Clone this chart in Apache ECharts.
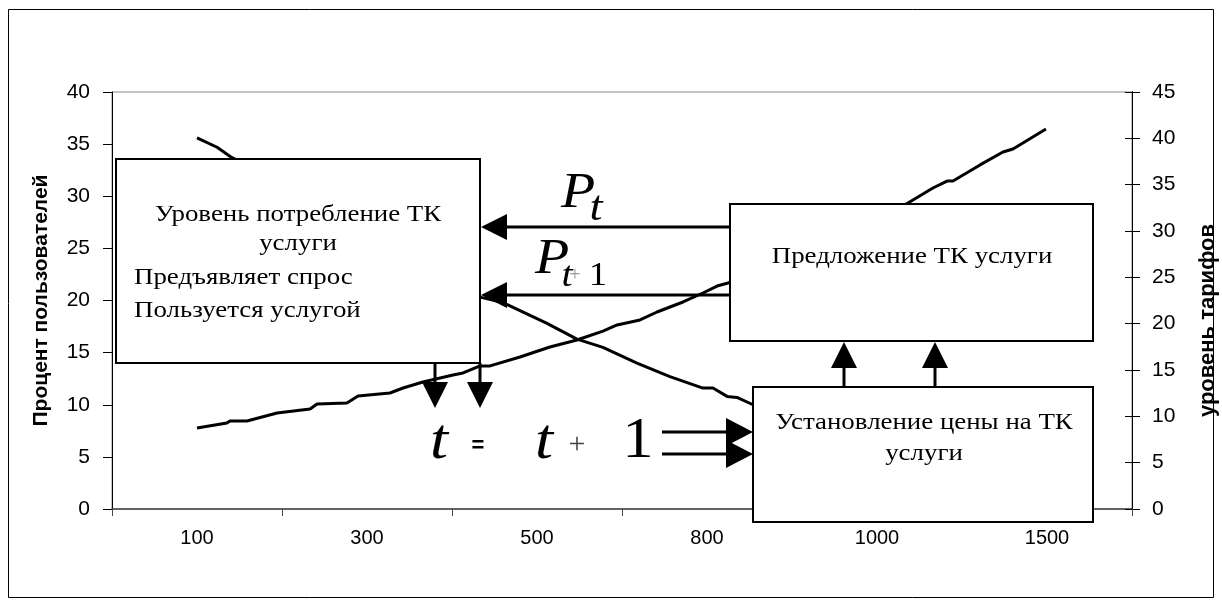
<!DOCTYPE html>
<html>
<head>
<meta charset="utf-8">
<script src="https://cdn.jsdelivr.net/npm/echarts@6/dist/echarts.min.js"></script>
<style>
html,body{margin:0;padding:0;background:#fff;}
#chart{width:1222px;height:607px;}
</style>
</head>
<body>
<div id="chart"></div>
<script>
// Category axis labels
const categories = ['100', '300', '500', '800', '1000', '1500'];
const leftAxisTitle = 'Процент пользователей';
const rightAxisTitle = 'уровень тарифов';

// Fractional category position (category i centre = i + 0.5) of the traced points
const demandPos = [0.5, 0.618, 0.706, 1.106, 1.576, 1.929, 2.171, 2.3, 2.559, 2.735, 2.888, 3.088, 3.282, 3.476, 3.535, 3.618, 3.676, 3.771, 4.341, 4.929, 5.494];
// Percent of users (left axis)
const demandValues = [35.6, 34.7, 33.7, 30.6, 25.8, 22.5, 20.3, 19.8, 17.8, 16.3, 15.5, 14.0, 12.7, 11.6, 11.6, 10.8, 10.7, 10.0, 7.6, 5.7, 3.9];

const supplyPos = [0.5, 0.676, 0.694, 0.794, 0.971, 1.165, 1.206, 1.382, 1.447, 1.635, 1.712, 1.829, 2.006, 2.065, 2.165, 2.224, 2.4, 2.576, 2.735, 2.888, 2.971, 3.106, 3.206, 3.359, 3.476, 3.559, 3.624, 4.165, 4.682, 4.829, 4.912, 4.947, 5.106, 5.241, 5.3, 5.494];
// Tariff level (right axis)
const supplyValues = [8.74, 9.28, 9.5, 9.5, 10.36, 10.79, 11.33, 11.44, 12.2, 12.52, 13.06, 13.7, 14.46, 14.68, 15.44, 15.44, 16.4, 17.48, 18.24, 19.2, 19.86, 20.4, 21.26, 22.34, 23.31, 24.06, 24.39, 28.46, 33.02, 34.64, 35.39, 35.39, 37.13, 38.52, 38.85, 41.0];

const chart = echarts.init(document.getElementById('chart'), null, {renderer: 'canvas'});

const SANS = '"Liberation Sans", Arial, sans-serif';
const SERIF = '"Liberation Serif", "Times New Roman", serif';

function zip(xs, ys) { return xs.map((x, i) => [x, ys[i]]); }

function rect(x1, y1, x2, y2) {
  return {type: 'rect', z: 100, shape: {x: x1, y: y1, width: x2 - x1, height: y2 - y1},
    style: {fill: '#fff', stroke: '#000', lineWidth: 2}};
}
function seg(x1, y1, x2, y2, w) {
  return {type: 'line', z: 101, shape: {x1, y1, x2, y2}, style: {stroke: '#000', lineWidth: w || 3}};
}
function tri(pts) {
  return {type: 'polygon', z: 102, shape: {points: pts}, style: {fill: '#000'}};
}
function txt(t, x, y, font, align, color, sx) {
  return {type: 'text', z: 103, x: x, y: y, scaleX: sx || 1.12,
    style: {text: t, x: 0, y: 0, font, fill: color || '#000', align: align || 'center', verticalAlign: 'middle'}};
}

const boxFont = '24px ' + SERIF;

const graphics = [
  {type: 'rect', z: 0, silent: true, shape: {x: 8.5, y: 9.5, width: 1205, height: 588}, style: {fill: 'none', stroke: '#000', lineWidth: 1}},
  // arrows from supply box to demand box
  seg(505, 227, 730, 227), tri([[481, 227], [507, 214], [507, 240]]),
  seg(505, 295, 730, 295), tri([[481, 295], [507, 282], [507, 308]]),
  // down arrows
  seg(435, 363, 435, 384), tri([[422, 382], [448, 382], [435, 408]]),
  seg(480, 363, 480, 384), tri([[467, 382], [493, 382], [480, 408]]),
  // right arrows to price box
  seg(662, 432, 728, 432), tri([[726, 418], [726, 446], [753, 432]]),
  seg(662, 454, 728, 454), tri([[726, 440], [726, 468], [753, 454]]),
  // up arrows
  seg(844, 387, 844, 366), tri([[831, 368], [857, 368], [844, 342]]),
  seg(935, 387, 935, 366), tri([[922, 368], [948, 368], [935, 342]]),
  // boxes
  rect(116, 159, 480, 363),
  rect(730, 204, 1093, 341),
  rect(753, 387, 1093, 522),
  txt('Уровень потребление ТК', 298, 215, boxFont),
  txt('услуги', 298, 244, boxFont),
  txt('Предъявляет спрос', 134, 278, boxFont, 'left'),
  txt('Пользуется услугой', 134, 311, boxFont, 'left'),
  txt('Предложение ТК услуги', 912, 257, boxFont),
  txt('Установление цены на ТК', 924, 423, boxFont),
  txt('услуги', 924, 454, boxFont),
  // formula labels
  txt('P', 578, 194, 'italic 50px ' + SERIF),
  txt('t', 596, 209, 'italic 42px ' + SERIF),
  txt('P', 552, 260, 'italic 50px ' + SERIF),
  txt('t', 567, 277, 'italic 36px ' + SERIF),
  txt('+', 575, 276, '20px ' + SERIF, 'center', '#999', 1),
  txt('1', 598, 276, '33px ' + SERIF),
  txt('t', 439, 443, 'italic 58px ' + SERIF),
  txt('=', 478, 446, 'bold 22px ' + SANS, 'center', '#000', 1),
  txt('t', 544, 443, 'italic 58px ' + SERIF),
  txt('+', 577, 445, '30px ' + SERIF, 'center', '#444', 1),
  txt('1', 638, 442, '56px ' + SERIF)
];

const option = {
  backgroundColor: '#fff',
  animation: false,
  grid: {left: 112, right: 90, top: 92, bottom: 98, outerBoundsMode: 'none', containLabel: false,
    show: true, borderColor: '#888', borderWidth: 1, backgroundColor: '#fff'},
  xAxis: [
    {type: 'category', data: categories, boundaryGap: true,
      axisLine: {lineStyle: {color: '#444', width: 1.5}},
      axisTick: {show: true, inside: false, length: 7, lineStyle: {color: '#444'}},
      axisLabel: {color: '#000', fontSize: 20, fontFamily: SANS, margin: 19},
      splitLine: {show: false}},
    {type: 'value', min: 0, max: 6, show: false}
  ],
  yAxis: [
    {type: 'value', min: 0, max: 40, interval: 5, position: 'left',
      name: leftAxisTitle, nameLocation: 'middle', nameRotate: 90, nameGap: 60,
      nameTextStyle: {color: '#000', fontSize: 21, fontWeight: 'bold', fontFamily: SANS},
      axisLine: {show: true, lineStyle: {color: '#000'}},
      axisTick: {show: true, length: 9, lineStyle: {color: '#000'}},
      axisLabel: {color: '#000', fontSize: 21, fontFamily: SANS, margin: 22},
      splitLine: {show: false}},
    {type: 'value', min: 0, max: 45, interval: 5, position: 'right',
      name: rightAxisTitle, nameLocation: 'middle', nameRotate: 90, nameGap: 65,
      nameTextStyle: {color: '#000', fontSize: 22, fontWeight: 'bold', fontFamily: SANS, padding: [0, 40, 0, 0]},
      axisLine: {show: true, lineStyle: {color: '#000'}},
      axisTick: {show: true, length: 8, lineStyle: {color: '#000'}},
      axisLabel: {color: '#000', fontSize: 21, fontFamily: SANS, margin: 20},
      splitLine: {show: false}},
    {type: 'value', min: 0, max: 45, interval: 5, position: 'right',
      axisLine: {show: true, lineStyle: {color: '#000'}},
      axisTick: {show: true, inside: true, length: 7, lineStyle: {color: '#000'}},
      axisLabel: {show: false},
      splitLine: {show: false}}
  ],
  series: [
    {type: 'line', name: 'Спрос', xAxisIndex: 1, yAxisIndex: 0, data: zip(demandPos, demandValues),
      showSymbol: false, symbol: 'none', lineStyle: {color: '#000', width: 3}, z: 5},
    {type: 'line', name: 'Тарифы', xAxisIndex: 1, yAxisIndex: 1, data: zip(supplyPos, supplyValues),
      showSymbol: false, symbol: 'none', lineStyle: {color: '#000', width: 3}, z: 5}
  ],
  graphic: {elements: graphics}
};
chart.setOption(option);
</script>
</body>
</html>
